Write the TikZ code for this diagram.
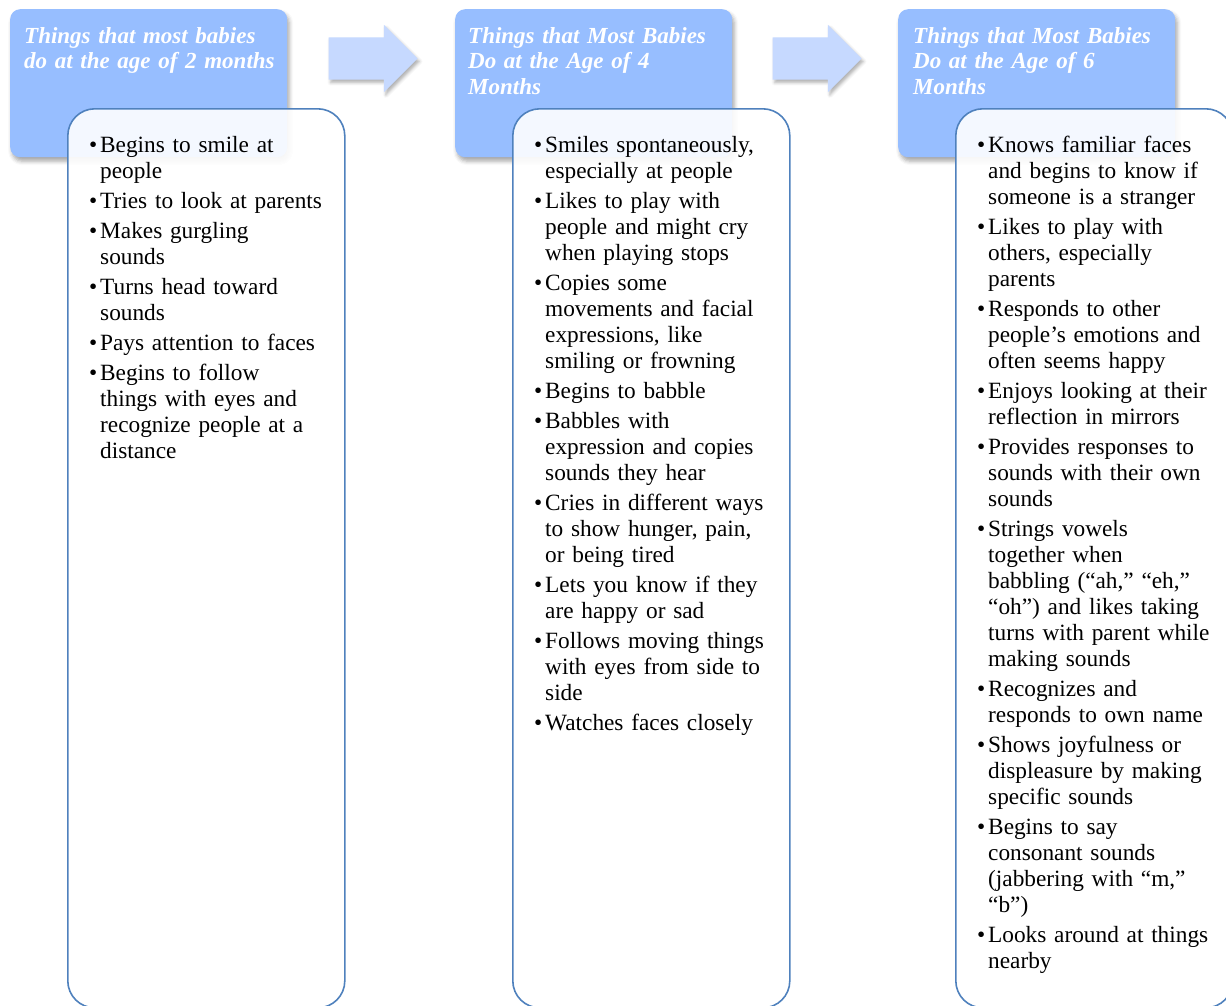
\documentclass[tikz,border=0pt]{standalone}
\usepackage{fontspec}
\setmainfont{Liberation Serif}
\usepackage{tikz}
\usetikzlibrary{shapes.arrows,shadows.blur}
\usepackage{xcolor}
\definecolor{headblue}{HTML}{97BEFF}
\definecolor{arrowblue}{HTML}{C6D9FF}
\definecolor{edgeblue}{HTML}{4F81BD}
\newcommand{\itm}{\makebox[11pt][l]{\textbullet}}
\newcommand{\cnt}{\hspace*{11pt}}
\tikzset{
  mshead/.style={draw=none, fill=headblue, rounded corners=10pt, anchor=north west,
    minimum width=277pt, minimum height=148pt,
    blur shadow={shadow xshift=2pt, shadow yshift=-4pt, shadow blur radius=4pt, shadow opacity=35}},
  msarrow/.style={single arrow, fill=arrowblue, inner xsep=0pt, inner ysep=21pt,
    minimum height=89pt, single arrow head extend=12.5pt, single arrow head indent=0pt,
    blur shadow={shadow xshift=2pt, shadow yshift=-3pt, shadow blur radius=3pt, shadow opacity=30}},
  msbody/.style={draw=edgeblue, line width=1.6pt, fill=white, fill opacity=0.9,
    rounded corners=27pt, anchor=north west, minimum width=277pt, minimum height=899pt},
  mstitle/.style={anchor=base west, inner sep=0pt, text width=262pt, align=left, text=white,
    font=\fontsize{23}{25.5}\selectfont\bfseries\itshape},
  mslist/.style={anchor=base west, inner sep=0pt, text width=270pt, align=left,
    font=\fontsize{23.3}{26}\selectfont},
}
\begin{document}
\begin{tikzpicture}[x=1pt, y=-1pt]
  \useasboundingbox (0,0) rectangle (1226,1005);
  % header boxes
  \node[mshead] (h2m) at (10,9) {};
  \node[mshead] (h4m) at (455,9) {};
  \node[mshead] (h6m) at (898,9) {};
  % arrows between the stages
  \node[msarrow] (a1) at (362.5,58.5) {};
  \node[msarrow] (a2) at (806.5,58.5) {};
  % list boxes
  \node[msbody] (b2m) at (67,108) {};
  \node[msbody] (b4m) at (512,108) {};
  \node[msbody] (b6m) at (955,108) {};

  \node[mstitle] (t2m) at (24,43) {Things that most babies\\do at the age of 2 months};
  \node[mstitle] (t4m) at (468,43) {Things that Most Babies\\Do at the Age of 4\\Months};
  \node[mstitle] (t6m) at (913,43) {Things that Most Babies\\Do at the Age of 6\\Months};

  \node[mslist] (l2m) at (89,152) {%
    \itm Begins to smile at\\\cnt people\\[4pt]
    \itm Tries to look at parents\\[4pt]
    \itm Makes gurgling\\\cnt sounds\\[4pt]
    \itm Turns head toward\\\cnt sounds\\[4pt]
    \itm Pays attention to faces\\[4pt]
    \itm Begins to follow\\\cnt things with eyes and\\\cnt recognize people at a\\\cnt distance};
  \node[mslist] (l4m) at (534,152) {%
    \itm Smiles spontaneously,\\\cnt especially at people\\[4pt]
    \itm Likes to play with\\\cnt people and might cry\\\cnt when playing stops\\[4pt]
    \itm Copies some\\\cnt movements and facial\\\cnt expressions, like\\\cnt smiling or frowning\\[4pt]
    \itm Begins to babble\\[4pt]
    \itm Babbles with\\\cnt expression and copies\\\cnt sounds they hear\\[4pt]
    \itm Cries in different ways\\\cnt to show hunger, pain,\\\cnt or being tired\\[4pt]
    \itm Lets you know if they\\\cnt are happy or sad\\[4pt]
    \itm Follows moving things\\\cnt with eyes from side to\\\cnt side\\[4pt]
    \itm Watches faces closely};
  \node[mslist] (l6m) at (977,152) {%
    \itm Knows familiar faces\\\cnt and begins to know if\\\cnt someone is a stranger\\[4pt]
    \itm Likes to play with\\\cnt others, especially\\\cnt parents\\[4pt]
    \itm Responds to other\\\cnt people’s emotions and\\\cnt often seems happy\\[4pt]
    \itm Enjoys looking at their\\\cnt reflection in mirrors\\[4pt]
    \itm Provides responses to\\\cnt sounds with their own\\\cnt sounds\\[4pt]
    \itm Strings vowels\\\cnt together when\\\cnt babbling (“ah,” “eh,”\\\cnt “oh”) and likes taking\\\cnt turns with parent while\\\cnt making sounds\\[4pt]
    \itm Recognizes and\\\cnt responds to own name\\[4pt]
    \itm Shows joyfulness or\\\cnt displeasure by making\\\cnt specific sounds\\[4pt]
    \itm Begins to say\\\cnt consonant sounds\\\cnt (jabbering with “m,”\\\cnt “b”)\\[4pt]
    \itm Looks around at things\\\cnt nearby};
\end{tikzpicture}
\end{document}
